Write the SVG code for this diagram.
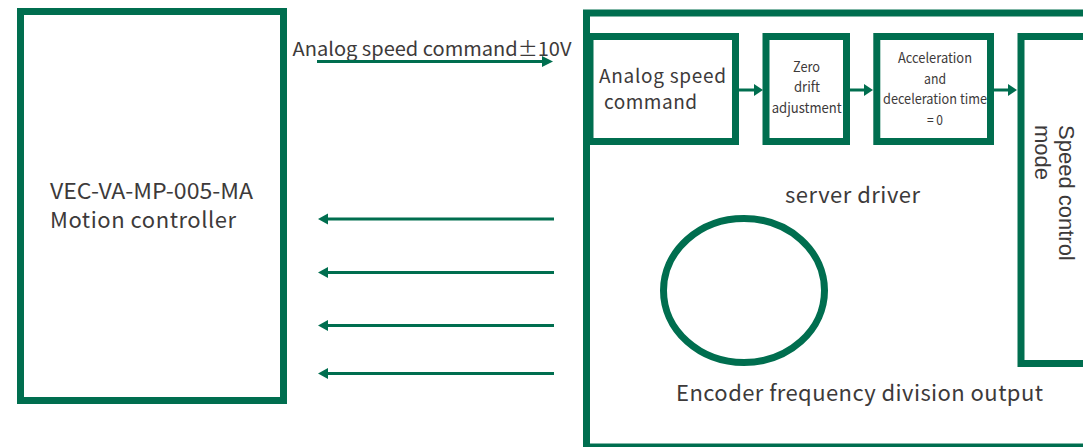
<svg xmlns="http://www.w3.org/2000/svg" width="1083" height="447" viewBox="0 0 1083 447">
<defs>
<style>
.box{fill:#ffffff;stroke:#006e4f;stroke-width:7}
.ln{stroke:#006e4f;stroke-width:3;fill:none}
.hd{fill:#006e4f}
.t{font-family:"Noto Sans CJK SC","Noto Sans",sans-serif;fill:#3d3a3a}
.s{font-family:"Noto Sans CJK SC","Noto Sans",sans-serif;fill:#3d3a3a;font-size:14px;text-anchor:middle}
.a{font-family:"Liberation Sans",Arial,sans-serif;fill:#3d3a3a;font-size:22px}
</style>
</defs>
<rect width="1083" height="447" fill="#ffffff"/>
<g id="controller">
<rect class="box" x="20.5" y="11.5" width="263" height="389"/>
<text class="t" font-size="22" x="50" y="199" textLength="203" lengthAdjust="spacingAndGlyphs">VEC-VA-MP-005-MA</text>
<text class="t" font-size="22" x="50" y="228" textLength="186" lengthAdjust="spacing">Motion controller</text>
</g>
<g id="server-driver">
<rect class="box" x="586.5" y="13" width="520" height="434"/>
<text class="t" font-size="22" x="785" y="203" textLength="135" lengthAdjust="spacing">server driver</text>
<text class="t" font-size="22" x="676" y="401" textLength="367" lengthAdjust="spacing">Encoder frequency division output</text>
</g>
<g id="encoder">
<ellipse cx="744" cy="290.5" rx="80.5" ry="72" fill="none" stroke="#006e4f" stroke-width="7"/>
</g>
<g id="analog-cmd">
<rect class="box" x="590" y="36.5" width="145.5" height="105"/>
<text class="t" font-size="19" x="599" y="83" textLength="127" lengthAdjust="spacing">Analog speed</text>
<text class="t" font-size="19" x="604" y="109" textLength="93" lengthAdjust="spacing">command</text>
</g>
<g id="zero-drift">
<rect class="box" x="766" y="36.5" width="80.5" height="105"/>
<text class="s" x="806.5" y="72" textLength="27" lengthAdjust="spacingAndGlyphs">Zero</text>
<text class="s" x="807" y="92" textLength="26" lengthAdjust="spacingAndGlyphs">drift</text>
<text class="s" x="806.7" y="113" textLength="70" lengthAdjust="spacingAndGlyphs">adjustment</text>
</g>
<g id="accel">
<rect class="box" x="876.8" y="36.5" width="113.7" height="105"/>
<text class="s" x="935" y="63" textLength="74" lengthAdjust="spacingAndGlyphs">Acceleration</text>
<text class="s" x="935" y="84" textLength="22" lengthAdjust="spacingAndGlyphs">and</text>
<text class="s" x="935" y="104" textLength="104" lengthAdjust="spacingAndGlyphs">deceleration time</text>
<text class="s" x="935" y="125" textLength="16" lengthAdjust="spacingAndGlyphs">= 0</text>
</g>
<g id="speed-mode">
<rect class="box" x="1021" y="36.5" width="90" height="327"/>
<text class="a" transform="translate(1059,125) rotate(90)">Speed control<tspan x="0" dy="24">mode</tspan></text>
</g>
<g id="connectors">
<text class="t" font-size="19" x="292.5" y="56" textLength="279" lengthAdjust="spacingAndGlyphs">Analog speed command±10V</text>
<line class="ln" x1="317" y1="61.5" x2="544" y2="61.5"/>
<polygon class="hd" points="553,61.5 542,56 542,67"/>
<line class="ln" x1="739" y1="90" x2="755" y2="90"/>
<polygon class="hd" points="763,90 754,84 754,96"/>
<line class="ln" x1="849" y1="90" x2="865" y2="90"/>
<polygon class="hd" points="873,90 864,84 864,96"/>
<line class="ln" x1="994" y1="90" x2="1009" y2="90"/>
<polygon class="hd" points="1017,90 1008,84 1008,96"/>
<line class="ln" x1="554" y1="219" x2="326" y2="219"/>
<polygon class="hd" points="318,219 328,213.5 328,224.5"/>
<line class="ln" x1="554" y1="272.5" x2="326" y2="272.5"/>
<polygon class="hd" points="318,272.5 328,267 328,278"/>
<line class="ln" x1="554" y1="325.5" x2="326" y2="325.5"/>
<polygon class="hd" points="318,325.5 328,320 328,331"/>
<line class="ln" x1="554" y1="373.5" x2="326" y2="373.5"/>
<polygon class="hd" points="318,373.5 328,368 328,379"/>
</g>
</svg>
